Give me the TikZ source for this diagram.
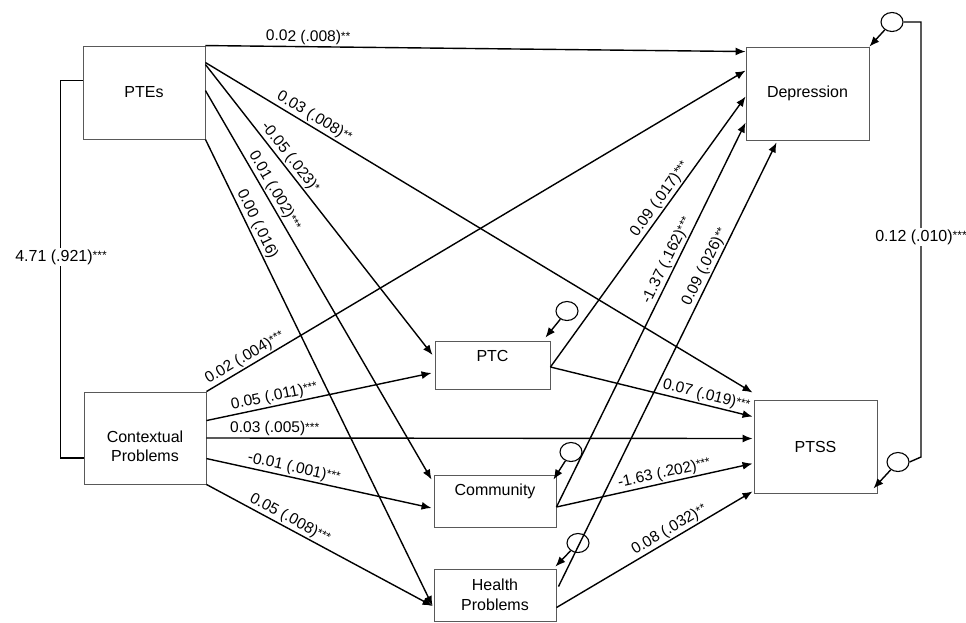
\documentclass[tikz,border=0pt]{standalone}
\usepackage{fontspec}
\setmainfont{Liberation Sans}
\usetikzlibrary{arrows.meta,calc,shapes.geometric}
\newcommand{\sig}[1]{\raisebox{1.5pt}{\fontsize{12}{12}\selectfont #1}}
\begin{document}
\begin{tikzpicture}[x=1pt,y=-1pt,
  font=\fontsize{16}{19}\selectfont,
  box/.style={draw=black!65, line width=0.9pt, rectangle, inner sep=0pt},
  err/.style={draw, line width=1.1pt, ellipse, minimum width=22pt, minimum height=19pt, inner sep=0pt},
  arr/.style={line width=1.4pt, -{Latex[length=10pt,width=8pt]}},
  cov/.style={line width=1.4pt},
  lab/.style={sloped, above, inner sep=1.5pt, font=\fontsize{15.5}{18}\selectfont}]
\useasboundingbox (0,0) rectangle (966,622);

% boxes
\node[box, minimum width=122pt, minimum height=93pt] (ptes) at (144,92.5) {PTEs};
\node[box, minimum width=123pt, minimum height=93pt] (dep) at (807.5,93.5) {Depression};
\node[box, minimum width=122pt, minimum height=92pt] (ctx) at (145,438) {};
\node[align=center] (ctxt) at (145,446) {Contextual\\Problems};
\node[box, minimum width=115pt, minimum height=48pt] (ptc) at (492.5,365) {};
\node (ptct) at (492.5,356) {PTC};
\node[box, minimum width=122pt, minimum height=52pt] (com) at (495,501) {};
\node (comt) at (495,491) {Community};
\node[box, minimum width=122pt, minimum height=52pt, align=center, font=\fontsize{16}{20}\selectfont] (hp) at (495,595) {Health\\Problems};
\node[box, minimum width=123pt, minimum height=93pt] (ptss) at (815.5,446.5) {PTSS};

% error terms
\node[err] (edep) at (892,22) {};
\node[err] (eptss) at (898,462) {};
\node[err] (eptc) at (567,311) {};
\node[err] (ecom) at (571,452) {};
\node[err] (ehp) at (578,543) {};

% paths from PTEs
\draw[arr] (ptes.north east) -- node[lab,pos=0.19]{0.02 (.008)\sig{**}} ($(dep.north west)+(0,5)$);
\draw[arr] ($(ptes.north east)+(0,17)$) -- node[lab,pos=0.19]{0.03 (.008)\sig{**}} ($(ptss.north west)+(-1,-7)$);
\draw[arr] ($(ptes.north east)+(0,19)$) -- node[lab,pos=0.34]{-0.05 (.023)\sig{*}} ($(ptc.west)+(-2,-10)$);
\draw[arr] ($(ptes.north east)+(0,45)$) -- node[lab,pos=0.27]{0.01 (.002)\sig{***}} ($(com.north west)+(-2,5)$);
\draw[arr] (ptes.south east) -- node[lab,pos=0.19]{0.00 (.016)} ($(hp.west)+(-1,11)$);

% paths from Contextual Problems
\draw[arr] (ctx.north east) -- node[lab,pos=0.08]{0.02 (.004)\sig{***}} ($(dep.north west)+(0,24)$);
\draw[arr] ($(ctx.north east)+(0,29)$) -- node[lab,pos=0.31]{0.05 (.011)\sig{***}} ($(ptc.west)+(-3,8)$);
\draw[arr] (ctx.east) -- node[lab,pos=0.125]{0.03 (.005)\sig{***}} ($(ptss.west)+(-1,-8)$);
\draw[arr] ($(ctx.north east)+(0,67)$) -- node[lab,pos=0.38]{-0.01 (.001)\sig{***}} ($(com.west)+(-2,7)$);
\draw[arr] (ctx.south east) -- node[lab,pos=0.35]{0.05 (.008)\sig{***}} ($(hp.west)+(-1,11)$);

% paths from mediators
\draw[arr] ($(ptc.east)+(0,2)$) -- node[lab,pos=0.60]{0.09 (.017)\sig{***}} ($(dep.north west)+(0,50)$);
\draw[arr] ($(ptc.east)+(0,2)$) -- node[lab,pos=0.76]{0.07 (.019)\sig{***}} ($(ptss.north west)+(-1,17)$);
\draw[arr] ($(com.east)+(0,6)$) -- node[lab,pos=0.63]{-1.37 (.162)\sig{***}} ($(dep.north west)+(0,76)$);
\draw[arr] ($(com.east)+(0,6)$) -- node[lab,pos=0.56]{-1.63 (.202)\sig{***}} ($(ptss.north west)+(-1,64)$);
\draw[arr] ($(hp.north east)+(2,18)$) -- node[lab,pos=0.71]{0.09 (.026)\sig{**}} ($(dep.south west)+(31,2)$);
\draw[arr] ($(hp.north east)+(0,39)$) -- node[lab,pos=0.60]{0.08 (.032)\sig{**}} ($(ptss.south west)+(-1,-2)$);

% error arrows
\draw[arr] (edep) -- (dep.north east);
\draw[arr] (eptss) -- ($(ptss.south east)+(-4,-5)$);
\draw[arr] (eptc) -- ($(ptc.north east)+(-5,-3)$);
\draw[arr] (ecom) -- ($(com.north east)+(-3,5)$);
\draw[arr] (ehp) -- ($(hp.north east)+(-1,-2)$);

% covariances
\draw[cov] ($(ptes.west)+(0,-12)$) -- ++(-22,0) |- ($(ctx.west)+(0,20)$);
\node[fill=white, inner sep=2pt] (covl) at (61,257) {4.71 (.921)\sig{***}};
\coordinate (rtop) at (921,22);
\coordinate (rbot) at (921,457);
\draw[cov] (edep.east) -- (rtop) -- (rbot) -- (eptss.east);
\node[fill=white, inner sep=2pt] (covr) at (921,237) {0.12 (.010)\sig{***}};
\end{tikzpicture}
\end{document}
